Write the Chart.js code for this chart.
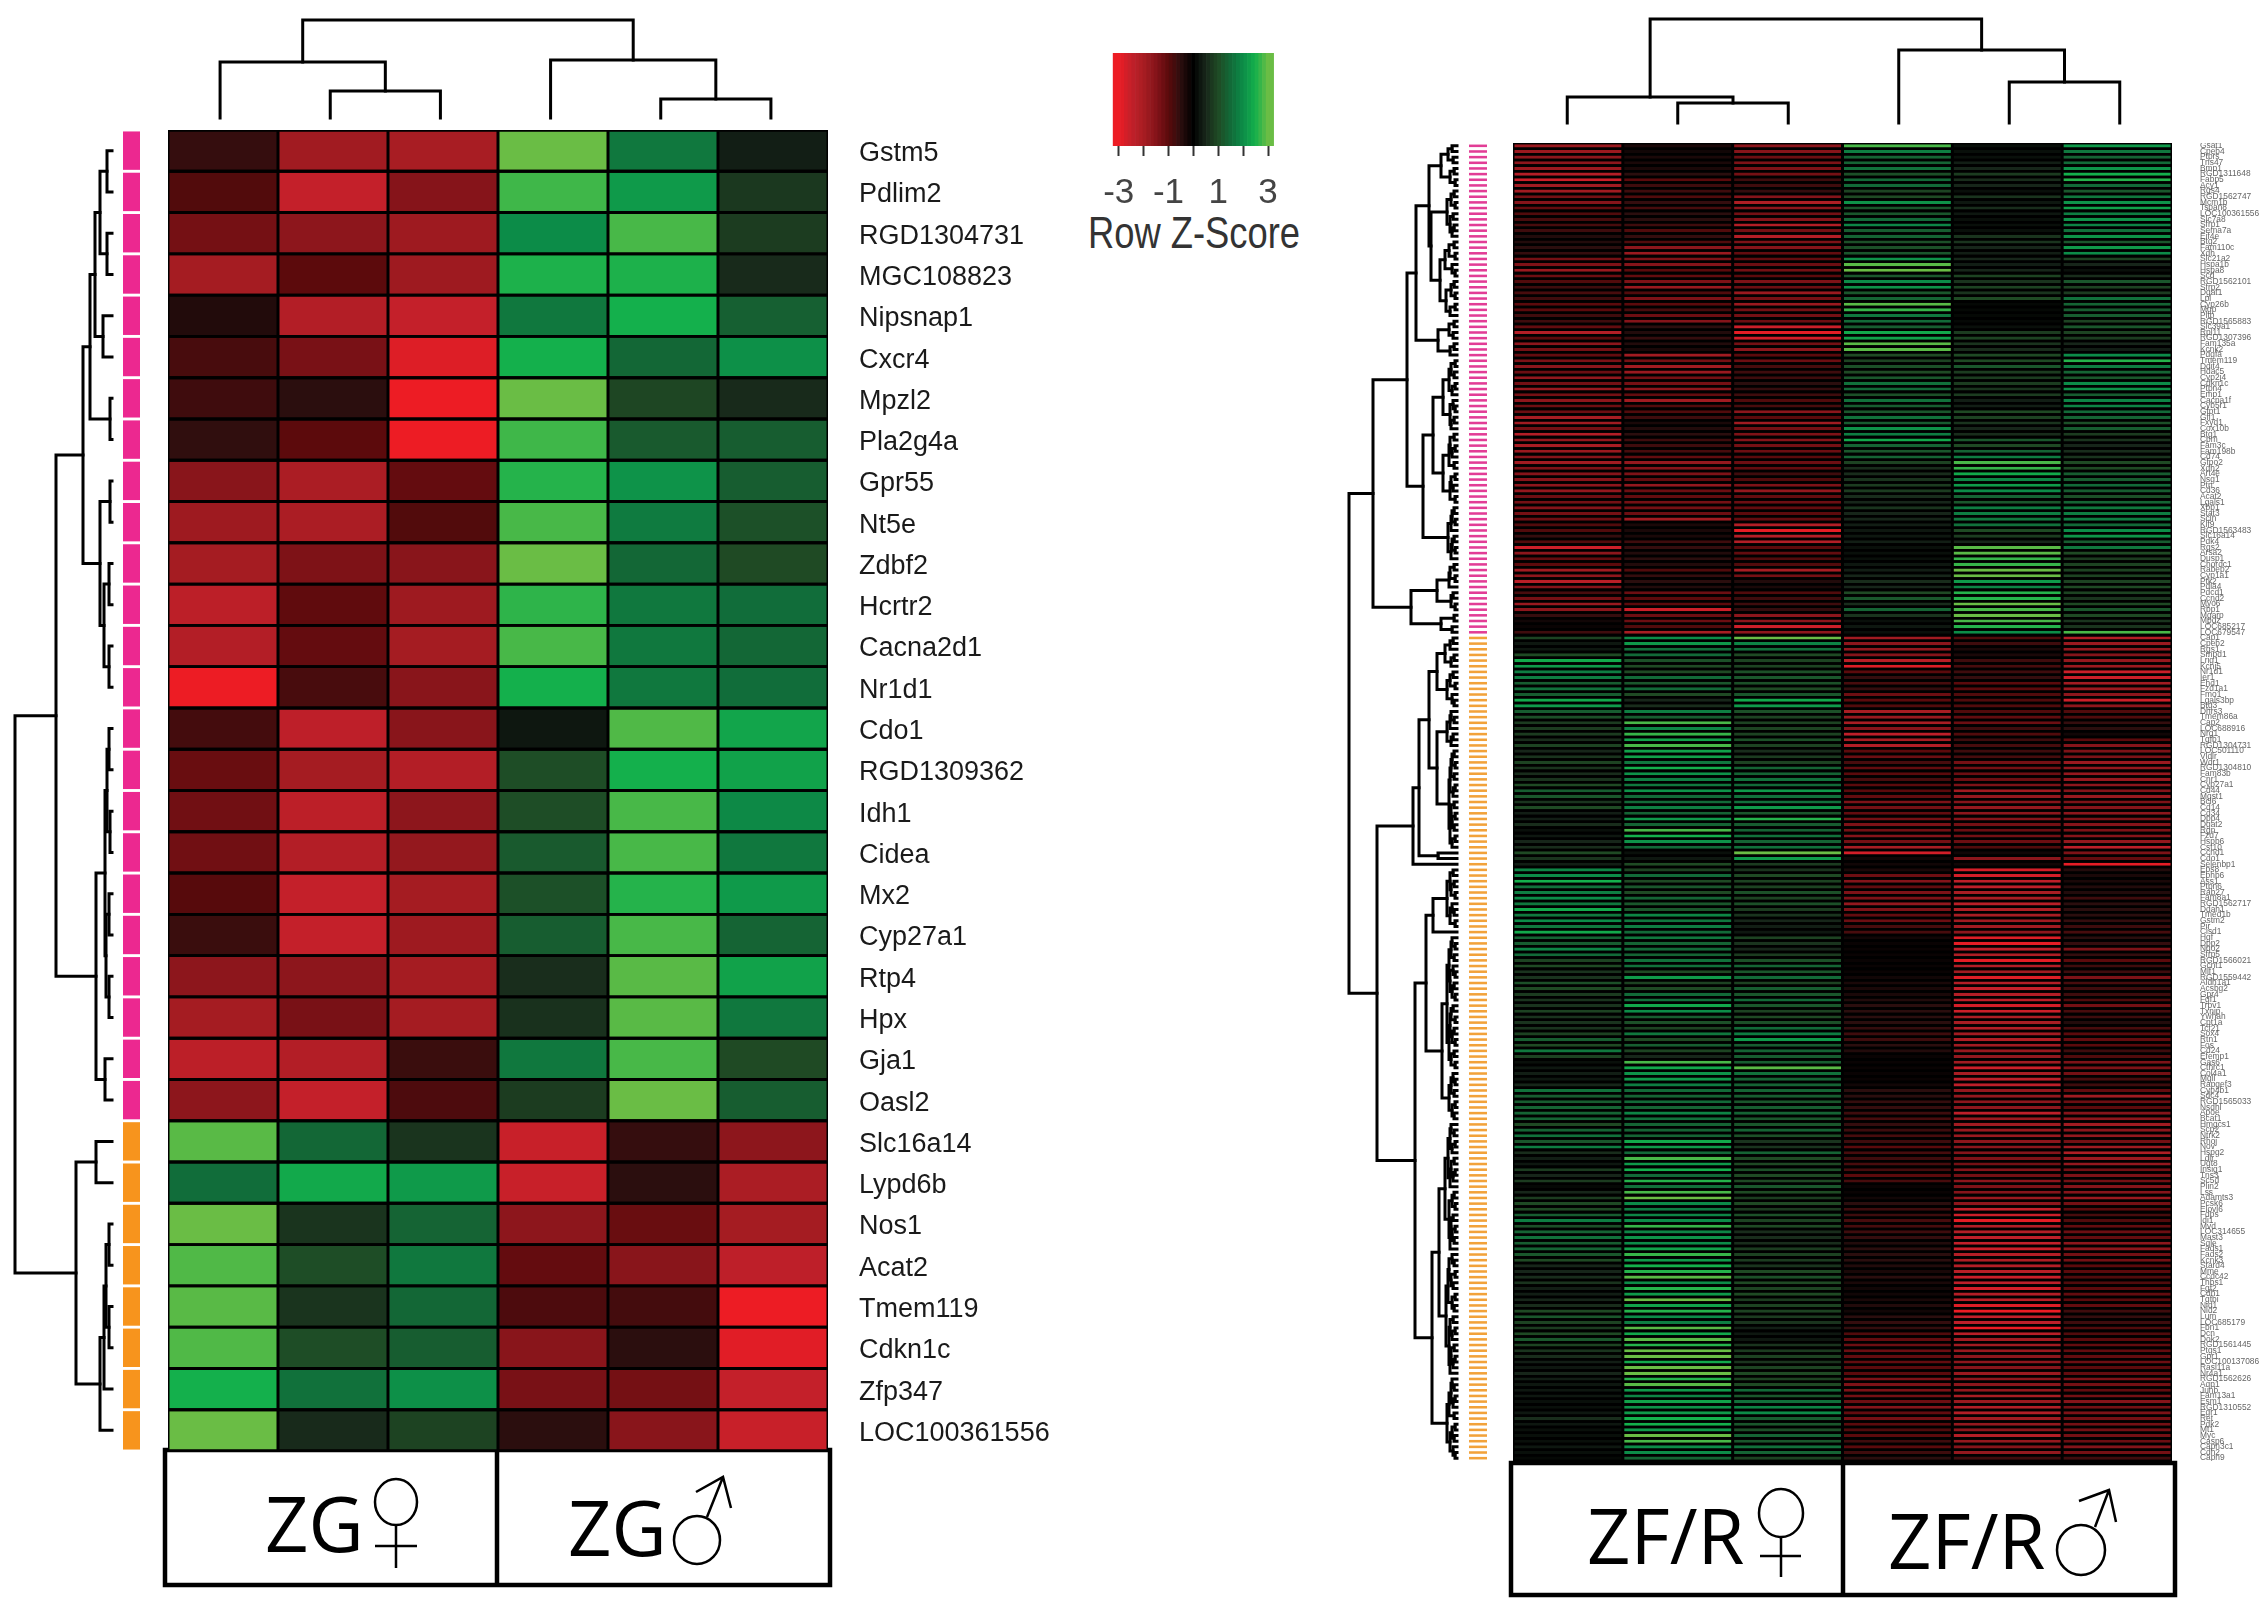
<!DOCTYPE html>
<html>
<head>
<meta charset="utf-8">
<title>Row Z-Score heatmaps ZG / ZF/R</title>
<script src="https://cdn.jsdelivr.net/npm/chart.js@4"></script>
<style>
html, body { margin: 0; padding: 0; background: #fff; }
body { position: relative; width: 2268px; height: 1615px; overflow: hidden; filter: blur(0.5px); }
canvas { position: absolute; }
canvas.soft { filter: blur(0.5px); }
svg { position: absolute; left: 0; top: 0; }
</style>
</head>
<body>
<svg width="2268" height="1615" font-family="'Open Sans'" font-size="76" fill="#000">
  <g fill="none" stroke="#000" stroke-width="4.5">
    <rect x="165" y="1450" width="665" height="135"/>
    <line x1="497" y1="1450" x2="497" y2="1585"/>
    <rect x="1511" y="1463" width="664" height="132"/>
    <line x1="1843" y1="1463" x2="1843" y2="1595"/>
  </g>
  <text x="265" y="1552">ZG</text>
  <text x="568" y="1556">ZG</text>
  <text x="1587" y="1564">ZF/R</text>
  <text x="1888" y="1569">ZF/R</text>
  <g fill="none" stroke="#000" stroke-width="2.5">
    <ellipse cx="396" cy="1502" rx="21" ry="23"/>
    <path d="M396 1525V1568M375 1546H417"/>
    <ellipse cx="697" cy="1540" rx="23" ry="24"/>
    <path d="M707 1517L723 1477M696 1492L723 1477L731 1508"/>
    <ellipse cx="1781" cy="1513" rx="22" ry="24"/>
    <path d="M1781 1537V1577M1760 1556H1801"/>
    <ellipse cx="2081" cy="1550" rx="24" ry="25"/>
    <path d="M2095 1527L2109 1490M2079 1501L2109 1490L2116 1522"/>
  </g>
  <text x="1088" y="248" font-family="'Liberation Sans'" font-size="44" fill="#333" textLength="212" lengthAdjust="spacingAndGlyphs">Row Z-Score</text>
</svg>
<script>
// ZG panel: 32 genes, 6 samples
const zgGenes = ['Gstm5','Pdlim2','RGD1304731','MGC108823','Nipsnap1','Cxcr4','Mpzl2','Pla2g4a','Gpr55','Nt5e','Zdbf2','Hcrtr2','Cacna2d1','Nr1d1','Cdo1','RGD1309362','Idh1','Cidea','Mx2','Cyp27a1','Rtp4','Hpx','Gja1','Oasl2','Slc16a14','Lypd6b','Nos1','Acat2','Tmem119','Cdkn1c','Zfp347','LOC100361556'];
const zgF1 = [-0.6,-0.9,-1.3,-1.95,-0.4,-0.8,-0.7,-0.55,-1.55,-1.85,-1.95,-2.35,-2.2,-3,-0.75,-1.15,-1.25,-1.25,-0.95,-0.65,-1.6,-1.95,-2.35,-1.6,2.9,1.55,3,2.85,2.9,2.85,2.5,3];
const zgF2 = [-1.9,-2.5,-1.6,-1,-2.2,-1.35,-0.5,-1,-2.05,-2.05,-1.4,-1.05,-1.1,-0.8,-2.4,-1.95,-2.35,-2.2,-2.5,-2.5,-1.6,-1.35,-2.2,-2.5,1.45,2.4,0.7,1.05,0.7,1.05,1.6,0.55];
const zgF3 = [-2,-1.5,-1.85,-1.85,-2.5,-2.8,-3,-3,-1.1,-0.9,-1.55,-1.85,-1.95,-1.55,-1.55,-2.2,-1.6,-1.7,-1.95,-1.85,-1.95,-1.95,-0.65,-0.85,0.7,2.2,1.4,1.7,1.45,1.3,2.05,0.9];
const zgM1 = [3,2.75,2,2.55,1.7,2.5,3,2.75,2.6,2.8,3,2.65,2.8,2.5,0.3,1.05,1.05,1.25,1.1,1.3,0.6,0.65,1.7,0.8,-2.55,-2.55,-1.6,-1.1,-0.85,-1.55,-1.35,-0.5];
const zgM2 = [1.7,2.2,2.8,2.55,2.5,1.45,0.95,1.25,2.1,1.75,1.45,1.7,1.7,1.7,2.85,2.5,2.8,2.8,2.6,2.8,2.9,2.9,2.8,3,-0.6,-0.5,-1.15,-1.55,-0.75,-0.5,-1.3,-1.55];
const zgM3 = [0.4,0.75,0.8,0.55,1.35,2.05,0.55,1.3,1.3,1.1,1,1.55,1.45,1.55,2.35,2.3,1.95,1.7,2.2,1.4,2.3,1.7,1,1.3,-1.6,-2.05,-1.95,-2.4,-3,-2.85,-2.5,-2.55];
const zgPinkRows = 24;
// merge height between neighbouring rows / columns
const zgRowMerge = [5,12,5,17,9,22,2,29,2,12,3,8,3,56,3,5,2,7,3,6,3,16,7,97,16,36,3,6,3,8,12];
const zgColMerge = [56,27,98,58,19];

// ZF/R panel: 233 genes, 6 samples
const zfGenes = ['Gsat1','Cpeb4','Ptprs','Tns47','Bmp1','RGD1311648','Fabp5','Acy1','Rgs4','RGD1562747','Mcm1b','Tspan8','LOC100361556','Slc7a8','Sfrp1','Sema7a','Eif4e','Btg2','Fam110c','Xdh','Slc21a2','Hspa1b','Hspa8','Scd','RGD1562101','Sfrp2','Dgat1','Lpl','Cyp26b','Mgp','Pltp','RGD1565883','Slc39a1','Rpl11','RGD1307396','Fam135a','Kcnk2','Pdgfa','Tmem119','Ddit4','Hdac5','Cyp2j4','Cdkn1c','Ptpn4','Emp1','Cacna1f','Cyb5r1','Gfpt1','Gfi1','Fxyd1','Cox10b','Btg1','Cpm','Fam3c','Fam198b','Cd74','Gfpo2','Xdh2','Art4e','Nsg1','Ptn','Cd36','Acat2','Lgals1','Xbp1','Stat3','Scin','Klf9','RGD1563483','Slc16a14','Pdk4','Rgs2','Arsa2','Dusp1','Chordc1','Rabep2','Cyp1a1','Ptk2','Pdia4','Pdcd1','Ccnd2','Myo6','Rbp1','Mgarp','Mpdz','LOC685217','LOC679547',
  'Cap1','Cpeb2','Rgs1','Smpd1','Lrig1','Kcnj5','Nr1d1','Ier1','Ehd1','Fzd1a1','Fmo1','Lgals3bp','Btg3','Dhrs3','Tmem86a','Cap2','LOC688916','Nrg1','Tgfb1','RGD1304731','LOC501110','Vldlr','Wdr1','RGD1304810','Fam83b','Cnr1','Cyp27a1','Cd44','Mgst1','Bcl6','Cd14','Cd34','Dpp4','Dgat2','Rgn','Fzd7','Hspb6','Cst10','Ccnd1','Cdo1','Selenbp1','Eps8','Ephb6','Ass1','Ptpn6','Rab27','Fam8a1','RGD1562717','Ddah1','Tmed1b','Gstm2','Pir','Cisd1','Hgf','Dpp2','Nqo2','Sfrp5','RGD1566021','Gcnt1','Mlf1','RGD1559442','Aldh1a1','Acsbg2','Gpr4','Fgf1','Trpv1','Txnip','Ywhah','Cpt1a','Tcf21','Sox4','Rtn1','Fos','Cd24','Efemp1','Gas6','Cthrc1','Col4a1','Mgll','Rapgef3','Cyp4b1','Sdc4','RGD1565033','Nsdhl','Apoe','Bcat1','Hmgcs1','Scp2','Ntrk2','Rhoj','Nov','Hspg2','Ldlr','Ugt8','Insig1','Tns3','Sc5d','Plin2','Lss','Adamts3','Pcsk6','Elovl6','Fdps','Idi1','Mvd','LOC314655','Mast3','Sqle','Fads1','Fads2','Kcnk3','Stard4','Mme','Ccdc42','Thbs1','Fgf2','Cdh1','Tgfbi','Nid1','Nid2','Lum','LOC685179','Fbn1','Dcn','Dok2','RGD1561445','Ptgs1','Gpr1','LOC100137086','Rasl11a','Nr4a1','RGD1562626','Aqp1','Junb','Fam13a1','Esm1','RGD1310552','Egr1','Ret','Pdk2','Mt1','Myc','Casp6','Capn3c1','Cdh2','Capn9'];
const zfF1 = [-1.8,-1.8,-1.6,-1.6,-1.8,-2.2,-2.6,-1.9,-1.9,-1.3,-1.5,-1.1,-0.9,-0.8,-0.8,-0.7,-0.4,-0.4,-0.5,-0.6,-1.3,-1.4,-1.8,-1.2,-0.9,-0.7,-0.8,-0.7,-1,-1,-0.7,-0.7,-1.1,-2.2,-1,-1.6,-1.3,-1.1,-1.4,-1.6,-1.2,-1.7,-1.3,-1.8,-1.3,-1.6,-1.2,-1.2,-2,-1.9,-1.3,-2.2,-1.7,-2,-1.8,-1.5,-1.9,-1.4,-1.5,-1.5,-1.6,-1.7,-1.2,-1.3,-1.5,-1.3,-1.2,-0.9,-0.9,-0.6,-0.9,-2.6,-1.6,-1.1,-1,-1.9,-1.6,-2.3,-1.5,
  -0.8,-1.3,-1.8,-1.6,-0.6,-0.2,-0.1,-0.7,
  0.9,0.3,0.3,1,2.4,2.2,1.8,1.8,1.3,1.6,1.3,2.4,2.2,1.3,1.1,0.8,0.8,0.8,0.6,0.9,0.5,0.7,0.9,0.7,0.6,0.7,1,1.3,1.2,0.7,1,0.4,0.4,0.6,0.2,0.3,0.5,0.6,1,0.7,0.4,1.9,2,2.5,1.6,1.8,2,1.7,2.4,1.7,2,1.7,2.4,1.4,1.3,1.9,1.5,0.9,1,0.7,0.7,1.1,1,0.8,0.7,0.7,0.9,0.7,0.7,
  0.7,0.9,1.3,1,1.7,0.9,0.2,0.3,0.4,0.3,0.5,1.6,1.3,1.3,1.4,1.4,1.4,1,1.4,1.6,1.2,1.8,0.6,0.4,0.3,0.8,0.5,0.8,0.1,0.5,0.8,1,1,1.3,1.8,1.1,1.4,1.6,1.3,1.4,1.2,1,0.5,0.5,0.6,0.7,0.4,0.4,0.5,0.6,1,1.2,0.9,0.8,1,1.2,0.9,0.7,0.6,0.4,0.3,0.5,0.4,0.3,0.3,0.3,0.2,0.2,0.3,0.6,0.3,0.2,0.2,0.2,0.3,0.2,0.1];
const zfF2 = [-0.3,-0.2,-0.3,-0.3,-0.3,-0.5,-1,-0.7,-0.7,-0.9,-0.6,-0.8,-0.5,-0.5,-0.7,-0.9,-0.6,-0.9,-1.6,-1.8,-1.4,-1.5,-1,-1.1,-1.4,-1.8,-0.9,-1.4,-1,-0.8,-1.2,-1.5,-0.5,-0.4,-0.6,-0.4,-0.3,-1.9,-1.3,-1.9,-1.8,-1.3,-1.3,-1.6,-1.1,-1.9,-0.9,-0.9,-0.7,-0.3,-0.4,-0.5,-0.7,-0.7,-0.8,-1.1,-1.7,-1.5,-1.4,-1.1,-1.7,-1.2,-1.1,-1.3,-1.3,-1.2,-1.9,-0.3,-0.3,-0.3,-0.7,-0.6,-0.4,-0.5,-0.4,-0.9,-0.6,-0.5,-0.4,
  -1.2,-1,-1,-2.6,-1.2,-1.2,-0.9,-2,
  2,2.2,1.6,1.5,1.1,1,1,1.5,1.2,1.5,1,0.5,0.6,1.8,1.3,2.8,1.9,2.7,2.3,2.8,2.3,2.3,1.7,2.5,2.1,1.8,1.7,2.1,1.5,1.5,1.8,1.4,2.2,1.4,2.8,2.5,2.1,1.5,0.2,0.3,1,0.9,1.5,1,1.2,1,1.4,1.2,1.2,1.9,1.7,1.8,1.5,1.7,1.4,1.5,1.4,1.6,1.6,1,2.2,0.9,1,1.5,1.6,2.4,2,1.3,1.1,
  0.9,1.7,1,1.3,0.9,0.5,2.8,2.4,2.1,2.2,1.8,1.5,1.4,1.5,1.4,1.9,1.6,1.4,1.4,1.4,2.4,2.2,1.5,2.8,2.2,2.5,1.5,2.6,1.6,2.8,3,2,1.8,1.9,2,2.7,1.9,2.1,2,2.3,2.7,2.2,2.5,2.6,2.9,2,2.6,2.2,3,2.3,2.6,2,1.8,2.9,2.4,2.9,2.6,3,3,2.4,3,3,2.6,2.9,2.2,1.9,2.3,2.1,2.2,2.5,2.5,2.2,3,2.8,2,2,1.4];
const zfF3 = [-1.6,-1.5,-1.2,-1.4,-1.4,-1.3,-0.7,-0.7,-0.6,-1.5,-2.1,-1.6,-1.3,-1.5,-2.2,-1.3,-2.2,-1.4,-1.5,-1.1,-1.1,-1.2,-1.3,-1,-1.4,-1.2,-1.8,-1.3,-1.8,-1.3,-1.3,-1.2,-2.6,-2.9,-2.7,-1.3,-1.6,-1,-1.2,-0.8,-0.7,-0.7,-0.5,-0.6,-0.7,-0.9,-0.8,-1.6,-1,-1.9,-1.3,-1.4,-1.5,-1.3,-1.2,-1,-1.2,-1.1,-0.7,-0.9,-1.4,-1.7,-1.1,-1.2,-1.1,-1,-1.1,-2.2,-2.9,-2.2,-2.2,-1,-1.1,-0.9,-0.9,-2,-1.3,-0.4,-0.3,
  -0.9,-0.7,-0.7,-0.6,-1.6,-1.6,-2.6,-1.6,
  3,1.9,1.6,1,0.9,0.9,1.1,1.2,1.1,1,1.2,2.4,2.2,1.1,0.9,0.9,0.9,0.9,1.1,0.9,0.6,0.8,0.9,1.4,1.4,1.6,1.5,2.2,1.6,1.6,2.2,1.2,2.6,1.3,1.4,1.6,1.4,1.6,3,2.2,0.8,0.7,1,0.9,0.9,1.1,0.9,1.1,0.8,0.7,0.5,0.4,0.3,0.9,0.7,0.5,0.8,1.1,1.4,1.2,1.5,0.9,1.3,1.2,1.5,1.2,0.9,1,1.1,
  1.5,1.8,2.2,1.3,1.4,1.3,1.3,2.9,1.6,1.4,1.4,1.4,1.3,1.2,1.3,1.4,1.2,1.2,1.4,1.1,0.7,0.7,1.4,1,1,1.1,1,1,1.2,1,0.8,1,0.8,1.1,0.9,1,0.6,0.6,0.6,0.8,0.9,0.8,0.7,1,1.1,1,0.9,1,0.8,0.9,0.9,0.8,0.7,0.4,0.3,0.3,0.7,0.8,0.9,0.7,0.9,1,0.9,1,1.5,1.2,1.6,1.9,2,1.3,1.2,1.1,1.4,1.2,1.6,1.4,0.9];
const zfM1 = [2.8,1.8,1.4,1.4,1.6,1.1,1.5,1.5,0.9,1,2.1,1.2,1.2,1.5,1.9,1.3,1.4,1.1,1.1,1.2,2.1,2.9,3,1.2,2,2.1,1.2,1.4,2.9,2.7,1.7,1.5,1.3,2.4,2.3,2.9,2.9,1,0.9,1.1,1,1.2,1.6,1.5,1.1,1.6,1.3,1.2,1.6,1.3,2.1,1.8,2.4,1.4,1.2,1.4,0.9,0.6,0.6,0.7,0.8,0.8,0.6,0.5,0.7,0.5,0.5,0.4,0.3,0.3,0.4,0.2,0.2,0.2,0.3,0.4,0.5,0.6,0.5,
  1,1.2,0.6,1.4,0.7,0.2,0.3,0.2,
  -1.9,-1.6,-1.7,-1.5,-2.3,-2.8,-1,-0.6,-0.8,-0.6,-1.2,-1,-0.9,-2,-1.8,-2,-1.5,-2.4,-2,-2.2,-1,-1.2,-0.8,-1.1,-1,-0.8,-1,-1,-1.1,-1.4,-1.3,-1.1,-1.3,-1.4,-1.3,-1.5,-1.3,-2,-2.7,-0.2,-0.2,-0.3,-1.2,-1.5,-1.1,-1.4,-1.4,-1.7,-1.4,-1.1,-1.2,-0.8,-0.8,-0.2,-0.1,-0.1,-0.1,-0.1,-0.1,-0.1,-0.2,-0.3,-0.3,-0.3,-0.4,-0.5,-0.5,-0.5,-0.5,
  -0.6,-0.7,-0.7,-0.5,-0.4,-0.1,-0.1,-0.1,-0.1,-0.1,-0.2,-0.5,-0.5,-0.6,-0.6,-0.7,-0.8,-0.6,-0.7,-0.8,-0.7,-1,-0.8,-0.7,-0.8,-0.8,-1,-0.8,-0.1,-0.1,-0.2,-0.5,-0.7,-0.7,-0.8,-0.8,-0.7,-0.6,-0.4,-0.5,-0.5,-0.5,-0.4,-0.3,-0.5,-0.3,-0.2,-0.2,-0.3,-0.4,-0.2,-0.5,-0.6,-0.6,-0.9,-1.1,-1.2,-1.2,-1.1,-1.1,-1,-1,-1.4,-1.4,-1.4,-1.3,-1.2,-1.5,-1.1,-1.3,-1,-0.9,-1,-0.7,-1,-0.7,-0.5];
const zfM2 = [0.2,0.2,0.2,0.4,0.5,0.8,0.6,0.5,0.2,0.7,0.3,0.6,0.3,0.2,0.2,0.2,0.7,0.7,0.5,0.4,0.5,0.4,0.5,0.9,0.7,0.9,0.7,1,0.1,0.1,0.1,0.1,0.2,0.8,0.9,0.7,0.6,1,1,1.2,0.8,0.8,0.8,0.7,0.8,0.4,0.4,1,0.9,0.7,0.5,0.6,1.2,1,1.4,1.8,2.8,2.7,2.4,1.9,2.2,2,1.4,1.2,1.8,1.8,1.7,1.6,1,0.8,0.5,2.9,2.9,2.7,2.7,3,3,2.2,1.9,
  2.6,2.6,3,2.8,3,2.8,2.6,2,
  -0.9,-0.7,-0.3,-0.3,-0.7,-0.8,-0.7,-0.6,-1,-1,-0.9,-0.9,-0.9,-0.9,-1.1,-1.2,-0.7,-0.9,-0.7,-0.8,-0.7,-0.8,-1.3,-1.3,-1.2,-1.2,-1.4,-1.9,-1.7,-1.5,-1.7,-1.6,-1.5,-1.3,-1.2,-1.3,-1.2,-0.9,-0.2,-1.6,-0.2,-2.7,-2.7,-2.4,-2.4,-2,-2,-2.3,-2.1,-2,-1.9,-1.9,-1.6,-2.8,-2.9,-2.4,-2.1,-2.9,-2.2,-1.9,-2.8,-2.2,-2.5,-2.2,-2.4,-2.7,-2.6,-2.1,-2,
  -2.2,-1.9,-2.1,-1.9,-1.8,-1.7,-1.9,-2.6,-2,-2.4,-2.4,-1.7,-1.7,-1.6,-1.6,-2.4,-1.8,-1.9,-1.8,-1.8,-1.6,-1.6,-1.5,-1.4,-1.3,-1.5,-1.3,-1.6,-1.4,-1.5,-1.8,-1.6,-2.5,-2.6,-2.9,-2.2,-2.2,-2.4,-2.5,-2.6,-2.2,-2.1,-2.2,-2.3,-2.6,-2.4,-2.7,-2.2,-2.3,-2.8,-3,-2.5,-2.4,-3,-2.3,-1.9,-1.9,-1.8,-1.6,-1.6,-1.5,-1.8,-1.6,-1.6,-1.7,-2,-1.8,-2.2,-2.2,-1.9,-1.7,-1.6,-2.2,-1.7,-1.5,-1.7,-0.7];
const zfM3 = [2.2,1.7,1.4,1.5,2.1,2.5,2.6,1.5,1.2,1.7,2.1,2.3,1.8,2.1,1.9,1.6,2.1,1.2,2.2,2,0.9,0.5,0.2,0.6,1.2,0.9,0.8,1.6,1.4,1.3,1.3,0.9,1.2,0.9,0.8,0.5,0.4,2,2.6,1.8,1.4,1.2,2,2.1,1.3,1.9,1.9,1.5,1.4,1.1,1.3,0.8,0.7,0.5,0.6,0.7,1,1,1.3,1.3,1.5,1.3,1.1,1.4,1.7,1.8,1.8,1.5,2,2.1,1.3,1.7,1,0.8,0.9,0.9,0.9,0.9,1,
  0.9,0.7,1,1.2,1,0.7,0.7,2.8,
  -2.2,-1.8,-1.7,-1.5,-1.7,-1.8,-2.6,-2.6,-1.9,-1.8,-1.6,-2.6,-1.6,-0.9,-0.9,-0.6,-0.5,-0.2,-1,-1.5,-1.4,-1.4,-1.8,-1.7,-1.7,-1.7,-1.6,-1.5,-1.8,-1.4,-1.5,-1.6,-1.4,-1.5,-1.4,-1.5,-1.7,-2.4,-1.4,-1.1,-2.9,-0.4,-0.3,-0.3,-0.4,-0.4,-0.7,-0.5,-0.5,-0.5,-0.6,-0.7,-0.8,-0.5,-0.6,-1.4,-0.6,-1,-0.7,-0.7,-1.4,-0.8,-0.7,-0.7,-0.9,-1.3,-0.8,-0.7,-0.4,
  -0.8,-1,-1.1,-1,-0.7,-0.9,-1.4,-1.4,-1.3,-0.8,-0.7,-1.1,-1.9,-1.2,-1,-1.5,-1.6,-1.9,-1.6,-1.7,-1.3,-1.9,-2.1,-1.8,-1.7,-1.3,-1.4,-1.3,-1.5,-1.5,-1.8,-1.3,-1,-0.8,-0.9,-1.1,-1.2,-1.1,-1.6,-1.6,-1.3,-1.3,-1,-1,-0.9,-0.9,-1,-1.1,-1,-1.1,-0.7,-0.6,-0.7,-0.9,-0.9,-1,-1.1,-1.1,-1.1,-1.2,-1,-1.1,-1.4,-1.3,-1.1,-1.3,-1.5,-1.3,-1.4,-1.3,-1.3,-1.3,-1.3,-1.2,-1.5,-1.3,-0.7];
const zfPinkRows = 87;
const zfRowMerge = [5,9,4,16,3,7,2,28,3,6,2,10,4,7,3,5,26,3,8,2,12,5,2,17,3,6,2,11,2,7,41,3,8,4,19,3,7,50,2,6,3,8,2,5,14,4,2,7,3,6,24,3,7,2,5,8,3,14,2,6,4,7,2,34,3,5,2,6,9,3,5,2,6,84,3,7,2,8,20,4,6,2,46,3,16,5,108,4,7,12,3,6,20,4,7,2,10,5,3,28,6,3,7,10,4,6,20,3,5,2,6,3,7,2,4,8,3,6,2,5,3,7,2,5,38,19,44,80,4,7,3,6,2,10,5,3,7,2,24,31,5,2,6,3,8,4,2,7,3,5,2,10,4,6,2,7,3,5,2,8,3,6,2,15,4,2,6,3,8,2,5,3,42,6,3,7,2,5,9,3,6,2,4,7,12,3,5,2,8,4,6,2,5,3,7,18,5,3,8,2,6,4,9,2,5,3,11,4,7,2,5,8,3,6,2,4,7,25,5,3,6,2,4,8,3,10,2,5,3,7,4,2];
const zfColMerge = [26,20,104,73,41];

// colour key
const keySteps = [-3.15,-3,-2.85,-2.7,-2.55,-2.4,-2.25,-2.1,-1.95,-1.8,-1.65,-1.5,-1.35,-1.2,-1.05,-0.9,-0.75,-0.6,-0.45,-0.3,-0.15,0,0.15,0.3,0.45,0.6,0.75,0.9,1.05,1.2,1.35,1.5,1.65,1.8,1.95,2.1,2.25,2.4,2.55,2.7,2.85,3,3.15];
const keyTicks = [-3,-2,-1,0,1,2,3];
const keyTickLabels = [-3,-1,1,3];

Chart.defaults.animation = false;
Chart.defaults.responsive = false;
Chart.defaults.devicePixelRatio = 1;
Chart.defaults.font.family = "'Liberation Sans', Arial, sans-serif";
Chart.defaults.plugins.legend.display = false;
Chart.defaults.plugins.tooltip.enabled = false;

const redStops = [[0,0,0],[43,14,14],[92,10,12],[134,20,26],[168,29,35],[196,32,42],[237,28,36]];
const greenStops = [[0,0,0],[23,38,26],[31,74,36],[18,106,56],[12,140,72],[20,176,76],[106,189,69]];

function zColor(z) {
    const stops = z < 0 ? redStops : greenStops;
    const t = Math.min(Math.abs(z), 3) * 2;
    const i = Math.min(Math.floor(t), 5);
    const f = t - i;
    const c = stops[i].map((v, k) => Math.round(v + (stops[i + 1][k] - v) * f));
    return `rgb(${c[0]},${c[1]},${c[2]})`;
}

function addCanvas(left, top, width, height) {
    const c = document.createElement('canvas');
    c.width = width;
    c.height = height;
    c.style.left = left + 'px';
    c.style.top = top + 'px';
    document.body.appendChild(c);
    return c;
}

const blackPlot = {
    id: 'blackPlot',
    beforeDatasetsDraw(chart) {
        const a = chart.chartArea;
        chart.ctx.fillStyle = '#000';
        chart.ctx.fillRect(a.left, a.top, a.width, a.height);
    }
};

// stacked horizontal bars, one dataset per sample
function heatmap(box, genes, columns, o) {
    const canvas = addCanvas(box.x, box.y, box.w + o.labelSpace, box.h);
    if (o.soft) canvas.className = 'soft';
    new Chart(canvas, {
        type: 'bar',
        plugins: [blackPlot],
        data: {
            labels: genes,
            datasets: columns.map(col => ({
                data: col.map(() => 1),
                backgroundColor: col.map(zColor),
                borderColor: '#000',
                borderWidth: {left: o.colGap / 2, right: o.colGap / 2, top: 0, bottom: 0},
                borderSkipped: false,
                inflateAmount: 0,
                barPercentage: 1,
                categoryPercentage: o.fill
            }))
        },
        options: {
            indexAxis: 'y',
            layout: {padding: 0, autoPadding: false},
            scales: {
                x: {stacked: true, min: 0, max: 6, display: false},
                y: {
                    stacked: true,
                    position: 'right',
                    afterFit: s => { s.width = o.labelSpace; s.paddingTop = 0; s.paddingBottom = 0; },
                    grid: {display: false, drawTicks: false},
                    border: {display: false},
                    ticks: {autoSkip: false, padding: o.labelGap, labelOffset: o.labelShift, color: o.labelColor, font: {size: o.labelSize}}
                }
            }
        }
    });
}

function sideBar(box, genes, pinkRows, colours, fill) {
    new Chart(addCanvas(box.x, box.y, box.w, box.h), {
        type: 'bar',
        data: {
            labels: genes,
            datasets: [{
                data: genes.map(() => 1),
                backgroundColor: genes.map((g, i) => i < pinkRows ? colours[0] : colours[1]),
                barPercentage: 1,
                categoryPercentage: fill
            }]
        },
        options: {
            indexAxis: 'y',
            layout: {padding: 0, autoPadding: false},
            scales: {x: {min: 0, max: 1, display: false}, y: {display: false}}
        }
    });
}

// tree from the merge height between neighbours
function dendroLinks(merge) {
    const links = [];
    function walk(lo, hi) {
        if (lo === hi) return {pos: lo, h: 0};
        let m = lo;
        for (let i = lo; i < hi; i++) if (merge[i] > merge[m]) m = i;
        const a = walk(lo, m), b = walk(m + 1, hi), h = merge[m];
        links.push([[a.pos, a.h], [a.pos, h], [b.pos, h], [b.pos, b.h]]);
        return {pos: (a.pos + b.pos) / 2, h};
    }
    walk(0, merge.length);
    return links;
}

function dendrogram(box, merge, vertical, lineWidth) {
    const pad = 4;
    const links = dendroLinks(merge);
    const posScale = {min: -0.5, max: merge.length + 0.5, display: false};
    const size = vertical ? box.h : box.w;
    const hScale = {min: 0, max: size, display: false};
    new Chart(addCanvas(box.x - pad, box.y - pad, box.w + pad * 2, box.h + pad * 2), {
        type: 'scatter',
        data: {
            datasets: links.map(l => ({
                data: l.map(p => vertical ? {x: p[0], y: p[1]} : {x: p[1], y: p[0]}),
                showLine: true,
                clip: false,
                pointRadius: 0,
                borderColor: '#000',
                borderWidth: lineWidth,
                borderCapStyle: 'square',
                borderJoinStyle: 'miter'
            }))
        },
        options: {
            layout: {padding: pad, autoPadding: false},
            scales: vertical
                ? {x: posScale, y: hScale}
                : {x: {...hScale, reverse: true}, y: {...posScale, reverse: true}}
        }
    });
}

function colourKey() {
    new Chart(addCanvas(1085, 53, 216, 170), {
        type: 'bar',
        data: {
            datasets: [{
                data: keySteps.map(z => ({x: z, y: 1})),
                backgroundColor: keySteps.map(zColor),
                barPercentage: 1,
                categoryPercentage: 1
            }]
        },
        options: {
            layout: {padding: {left: 17, right: 17, top: 0, bottom: 0}, autoPadding: false},
            scales: {
                x: {
                    type: 'linear',
                    min: -3.15,
                    max: 3.12,
                    afterBuildTicks: s => { s.ticks = keyTicks.map(v => ({value: v})); },
                    afterFit: s => { s.height = 77; s.paddingLeft = 0; s.paddingRight = 0; },
                    grid: {offset: false, drawOnChartArea: false, drawTicks: true, tickLength: 10, tickColor: '#333', tickWidth: 2},
                    border: {display: false},
                    ticks: {
                        autoSkip: false,
                        maxRotation: 0,
                        padding: 16,
                        color: '#444',
                        font: {family: "'Liberation Sans Narrow', 'Liberation Sans'", size: 35},
                        callback: v => keyTickLabels.includes(v) ? String(v) : ''
                    }
                },
                y: {min: 0, max: 1, display: false}
            }
        }
    });
}

const zgBox = {x: 168, y: 130, w: 660, h: 1321};
const zfBox = {x: 1513, y: 143, w: 659, h: 1318};

heatmap(zgBox, zgGenes, [zgF1, zgF2, zgF3, zgM1, zgM2, zgM3],
    {labelSpace: 272, labelGap: 31, labelShift: 3, labelColor: '#1a1a1a', labelSize: 27, colGap: 3, fill: 0.93});
heatmap(zfBox, zfGenes, [zfF1, zfF2, zfF3, zfM1, zfM2, zfM3],
    {labelSpace: 96, labelGap: 28, labelShift: 0, labelColor: '#666', labelSize: 8.4, colGap: 3, fill: 0.55, soft: true});

sideBar({x: 123, y: 130, w: 17, h: 1321}, zgGenes, zgPinkRows, ['#ec2890', '#f7941d'], 0.93);
sideBar({x: 1469, y: 143, w: 18, h: 1318}, zfGenes, zfPinkRows, ['#e23d96', '#f2a23a'], 0.45);

dendrogram({x: 165, y: 15, w: 661, h: 103}, zgColMerge, true, 3);
dendrogram({x: 1512, y: 14, w: 663, h: 109}, zfColMerge, true, 3);
dendrogram({x: 12, y: 130, w: 100, h: 1321}, zgRowMerge, false, 3);
dendrogram({x: 1345, y: 143, w: 112, h: 1318}, zfRowMerge, false, 3);

colourKey();
</script>
</body>
</html>
